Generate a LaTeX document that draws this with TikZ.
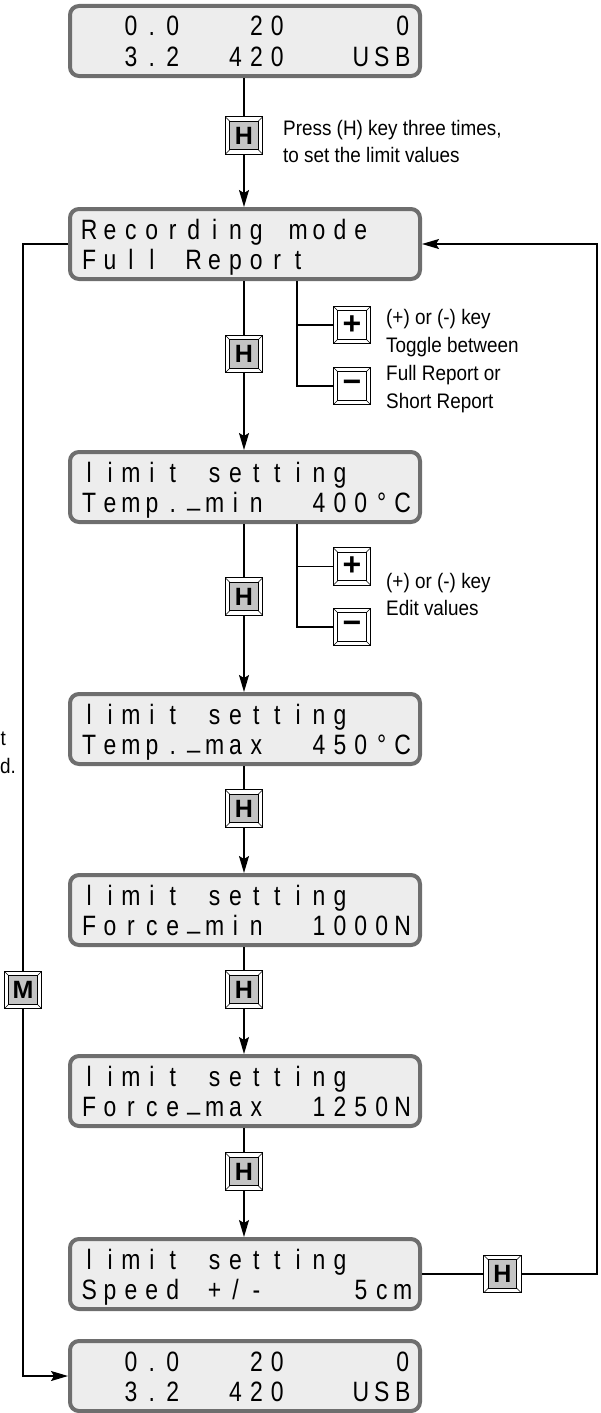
\documentclass[tikz,border=0pt]{standalone}
\usepackage{fontspec}
\usetikzlibrary{calc,arrows.meta}
\newfontfamily\sidefont{Liberation Sans}[FakeStretch=0.9]
\newfontfamily\keyfont{Liberation Sans}
\newfontfamily\lcdfont{Liberation Sans}[FakeStretch=0.82]
\definecolor{lcdfill}{HTML}{EDEDED}
\definecolor{lcdframe}{HTML}{6E6E6E}
\definecolor{keygray}{HTML}{C4C4C4}
\def\us{\raisebox{7pt}{\_}}
\makeatletter
\def\lcdrow#1{\lcd@loop#1\relax}
\def\lcd@loop#1{\ifx#1\relax\else\ifx#1*\makebox[20.9pt]{}\else\makebox[20.9pt]{#1}\fi\expandafter\lcd@loop\fi}
\makeatother
\tikzset{
  lcd/.style={draw=lcdframe, fill=lcdfill, line width=4pt, rounded corners=9pt,
    minimum width=350pt, minimum height=70pt, inner sep=0pt},
  lcdtext/.style={anchor=base west, inner sep=0pt, font=\lcdfont\fontsize{28}{28}\selectfont},
  keybase/.style={draw, line width=1pt, minimum size=37.5pt, inner sep=0pt, fill=white,
    font=\keyfont\bfseries\fontsize{25}{25}\selectfont},
  hkey/.style={keybase, path picture={
    \draw[line width=0.9pt, fill=#1] ($(path picture bounding box.south west)+(4.5,4.5)$)
      rectangle ($(path picture bounding box.north east)+(-4.5,-4.5)$);
    \draw[line width=0.6pt] (path picture bounding box.south west) -- ++(4.5,4.5)
      (path picture bounding box.north east) -- ++(-4.5,-4.5)
      (path picture bounding box.north west) -- ++(4.5,-4.5)
      (path picture bounding box.south east) -- ++(-4.5,4.5);}},
  pmkey/.style={hkey=white, font=\keyfont\bfseries\fontsize{32}{32}\selectfont},
  conn/.style={line width=1.3pt},
  arr/.style={-{Stealth[length=17pt,width=10pt,inset=3pt]}},
  side/.style={inner sep=0pt, font=\sidefont\fontsize{21}{26}\selectfont},
}
\begin{document}
\begin{tikzpicture}[x=1pt,y=1pt]
\useasboundingbox (0,0) rectangle (601,-1413);
% displays
\node[lcd] (D1) at (245,-41) {};
\node[lcd] (D2) at (245,-244) {};
\node[lcd] (D3) at (245,-487) {};
\node[lcd] (D4) at (245,-729) {};
\node[lcd] (D5) at (245,-910) {};
\node[lcd] (D6) at (245,-1091) {};
\node[lcd] (D7) at (245,-1274) {};
\node[lcd] (D8) at (245,-1376) {};
% display texts
\node[lcdtext] (D1a) at ($(D1.north west)+(10.55,-32)$) {\lcdrow{**0.0***20*****0}};
\node[lcdtext] (D1b) at ($(D1.north west)+(10.55,-62.5)$) {\lcdrow{**3.2**420***USB}};
\node[lcdtext] (D2a) at ($(D2.north west)+(10.55,-32)$) {\lcdrow{Recording*mode}};
\node[lcdtext] (D2b) at ($(D2.north west)+(10.55,-62.5)$) {\lcdrow{Full*Report}};
\node[lcdtext] (D3a) at ($(D3.north west)+(10.55,-32)$) {\lcdrow{limit*setting}};
\node[lcdtext] (D3b) at ($(D3.north west)+(10.55,-62.5)$) {\lcdrow{Temp.\us min**400°C}};
\node[lcdtext] (D4a) at ($(D4.north west)+(10.55,-32)$) {\lcdrow{limit*setting}};
\node[lcdtext] (D4b) at ($(D4.north west)+(10.55,-62.5)$) {\lcdrow{Temp.\us max**450°C}};
\node[lcdtext] (D5a) at ($(D5.north west)+(10.55,-32)$) {\lcdrow{limit*setting}};
\node[lcdtext] (D5b) at ($(D5.north west)+(10.55,-62.5)$) {\lcdrow{Force\us min**1000N}};
\node[lcdtext] (D6a) at ($(D6.north west)+(10.55,-32)$) {\lcdrow{limit*setting}};
\node[lcdtext] (D6b) at ($(D6.north west)+(10.55,-62.5)$) {\lcdrow{Force\us max**1250N}};
\node[lcdtext] (D7a) at ($(D7.north west)+(10.55,-32)$) {\lcdrow{limit*setting}};
\node[lcdtext] (D7b) at ($(D7.north west)+(10.55,-62.5)$) {\lcdrow{Speed*+/-****5cm}};
\node[lcdtext] (D8a) at ($(D8.north west)+(10.55,-32)$) {\lcdrow{**0.0***20*****0}};
\node[lcdtext] (D8b) at ($(D8.north west)+(10.55,-62.5)$) {\lcdrow{**3.2**420***USB}};
% keys
\node[hkey=keygray] (K1) at (244,-135.5) {H};
\node[hkey=keygray] (K2) at (244,-354) {H};
\node[hkey=keygray] (K3) at (244,-596.5) {H};
\node[hkey=keygray] (K4) at (244,-808.5) {H};
\node[hkey=keygray] (K5) at (244,-989.5) {H};
\node[hkey=keygray] (K6) at (244,-1171.5) {H};
\node[hkey=keygray] (KR) at (502.5,-1274) {H};
\node[hkey=keygray] (KM) at (23,-990) {M};
\node[pmkey] (P1) at (352,-325) {+};
\node[pmkey] (N1) at (352,-386) {−};
\node[pmkey] (P2) at (352,-566.5) {+};
\node[pmkey] (N2) at (352,-627) {−};
% main chain
\draw[conn] (D1.south -| K1) -- (K1.north);
\draw[conn,arr] (K1.south) -- (D2.north -| K1);
\draw[conn] (D2.south -| K2) -- (K2.north);
\draw[conn,arr] (K2.south) -- (D3.north -| K2);
\draw[conn] (D3.south -| K3) -- (K3.north);
\draw[conn,arr] (K3.south) -- (D4.north -| K3);
\draw[conn] (D4.south -| K4) -- (K4.north);
\draw[conn,arr] (K4.south) -- (D5.north -| K4);
\draw[conn] (D5.south -| K5) -- (K5.north);
\draw[conn,arr] (K5.south) -- (D6.north -| K5);
\draw[conn] (D6.south -| K6) -- (K6.north);
\draw[conn,arr] (K6.south) -- (D7.north -| K6);
% branches
\coordinate (B1) at (297,-281);
\draw[conn] (B1) |- (N1.west);
\draw[conn] (P1.west) -- (P1.west -| B1);
\coordinate (B2) at (297,-524);
\draw[conn] (B2) |- (N2.west);
\draw[conn] (P2.west) -- (P2.west -| B2);
% loops
\coordinate (RC) at (597,-1274);
\draw[conn] (D7.east) -- (KR.west);
\draw[conn,arr] (KR.east) -- (RC) |- (D2.east);
\draw[conn] (D2.west) -| (KM.north);
\draw[conn,arr] (KM.south) |- (D8.west);
% side texts
\node[side, anchor=base west] (T1a) at (283,-135) {Press (H) key three times,};
\node[side, anchor=base west] (T1b) at (283,-162) {to set the limit values};
\node[side, anchor=base west] (T2a) at (386,-324) {(+) or (-) key};
\node[side, anchor=base west] (T2b) at (386,-352) {Toggle between};
\node[side, anchor=base west] (T2c) at (386,-380) {Full Report or};
\node[side, anchor=base west] (T2d) at (386,-408) {Short Report};
\node[side, anchor=base west] (T3a) at (386,-588) {(+) or (-) key};
\node[side, anchor=base west] (T3b) at (386,-615) {Edit values};
\node[side, anchor=base west] (T4a) at (0.5,-745) {t};
\node[side, anchor=base west] (T4b) at (0,-773) {d.};
\end{tikzpicture}
\end{document}
